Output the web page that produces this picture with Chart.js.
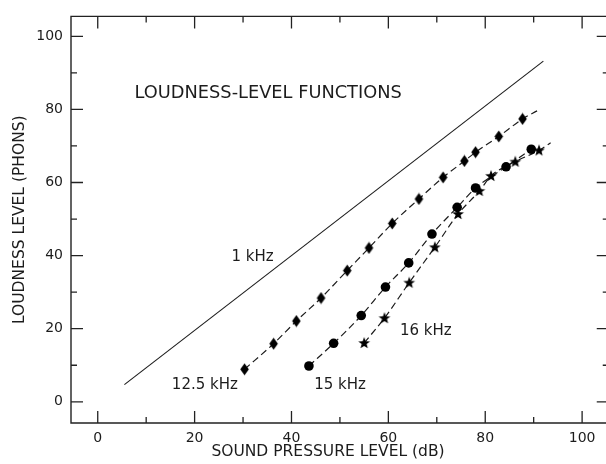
<!DOCTYPE html>
<html>
<head>
<meta charset="utf-8">
<script src="https://cdn.jsdelivr.net/npm/chart.js@4/dist/chart.umd.min.js"></script>
<style>
html,body{margin:0;padding:0;background:#fff;}
#wrap{width:606px;height:464px;}
</style>
</head>
<body>
<div id="wrap"><canvas id="chart" width="606" height="464"></canvas></div>
<script>
// 1 kHz line, end points only
var x1k = [5.5, 92.0];
var y1k = [4.7, 93.2];
// 12.5 kHz (diamonds)
var x125 = [30.3, 36.3, 41.0, 46.1, 51.5, 56.0, 60.8, 66.3, 71.3, 75.7, 78.0, 82.8, 87.7];
var y125 = [8.9, 15.9, 22.1, 28.4, 35.9, 42.1, 48.8, 55.5, 61.4, 65.9, 68.3, 72.6, 77.4];
var end125 = [90.7, 79.6]; // dashed curve runs on a little past last point
// 15 kHz (circles)
var x15 = [43.6, 48.7, 54.4, 59.4, 64.2, 69.0, 74.2, 78.0, 84.3, 89.5];
var y15 = [9.8, 16.0, 23.6, 31.4, 38.0, 45.9, 53.2, 58.5, 64.3, 69.1];
// 16 kHz (stars)
var x16 = [55.0, 59.2, 64.3, 69.6, 74.4, 78.8, 81.2, 86.2, 91.1];
var y16 = [16.1, 22.9, 32.6, 42.3, 51.4, 57.7, 61.8, 65.7, 68.8];
var end16 = [93.5, 70.9];

var xTicks = [0, 10, 20, 30, 40, 50, 60, 70, 80, 90, 100];
var yTicks = [0, 10, 20, 30, 40, 50, 60, 70, 80, 90, 100];

var ink = '#1c1c1c';
var FONT = 'DejaVu Sans';

// text in the plot, given in data units
var notes = [
    {text: 'LOUDNESS-LEVEL FUNCTIONS', x: 7.6, y: 84.3, size: 17.8},
    {text: '1 kHz', x: 27.6, y: 39.5, size: 15},
    {text: '12.5 kHz', x: 15.3, y: 4.6, size: 15},
    {text: '15 kHz', x: 44.7, y: 4.6, size: 15},
    {text: '16 kHz', x: 62.4, y: 19.3, size: 15}
];

function pts(xs, ys, end) {
    var out = [];
    for (var i = 0; i < xs.length; i++) out.push({x: xs[i], y: ys[i]});
    if (end) out.push({x: end[0], y: end[1]});
    return out;
}

function makeDiamond() {
    var c = document.createElement('canvas');
    c.width = 11; c.height = 13;
    var g = c.getContext('2d');
    g.fillStyle = '#000';
    g.beginPath();
    g.moveTo(5.5, 0.5); g.lineTo(9.8, 6.5); g.lineTo(5.5, 12.5); g.lineTo(1.2, 6.5);
    g.closePath(); g.fill();
    return c;
}
function makeStar() {
    var c = document.createElement('canvas');
    c.width = 14; c.height = 14;
    var g = c.getContext('2d');
    g.fillStyle = '#000';
    g.beginPath();
    for (var k = 0; k < 10; k++) {
        var r = k % 2 == 0 ? 6.2 : 2.6;
        var a = -Math.PI / 2 + k * Math.PI / 5;
        var px = 7 + r * Math.cos(a), py = 7.3 + r * Math.sin(a);
        if (k == 0) g.moveTo(px, py); else g.lineTo(px, py);
    }
    g.closePath(); g.fill();
    return c;
}

function curve(data) {
    return {data: data, showLine: true, borderColor: ink, borderWidth: 1.2, borderDash: [7, 4],
        pointRadius: 0, cubicInterpolationMode: 'monotone', fill: false, order: 2};
}
function marks(data, style, r) {
    return {data: data, showLine: false, pointStyle: style, pointRadius: r,
        backgroundColor: '#000', borderColor: '#000', borderWidth: 0, order: 0};
}

var frame = {
    id: 'frame',
    beforeDraw: function (chart) {
        var c = chart.ctx;
        c.save();
        c.fillStyle = '#fff';
        c.fillRect(0, 0, chart.width, chart.height);
        c.restore();
    },
    afterDraw: function (chart) {
        var c = chart.ctx, xs = chart.scales.x, ys = chart.scales.y;
        var L = xs.getPixelForValue(xs.min), R = xs.getPixelForValue(105.5);
        var T = ys.getPixelForValue(ys.max), B = ys.getPixelForValue(ys.min);
        c.save();
        c.strokeStyle = '#222';
        c.lineWidth = 1.4;
        c.beginPath();
        c.moveTo(R, T); c.lineTo(L, T); c.lineTo(L, B); c.lineTo(R, B); c.lineTo(R, T);
        c.stroke();
        c.lineWidth = 1.3;
        c.beginPath();
        xs.ticks.forEach(function (t) {
            var p = xs.getPixelForValue(t.value), len = t.value % 20 == 0 ? 12 : 6;
            c.moveTo(p, B); c.lineTo(p, B - len);
            c.moveTo(p, T); c.lineTo(p, T + len);
        });
        ys.ticks.forEach(function (t) {
            var p = ys.getPixelForValue(t.value), len = t.value % 20 == 0 ? 12 : 6;
            c.moveTo(L, p); c.lineTo(L + len, p);
            c.moveTo(R, p); c.lineTo(R - len, p);
        });
        c.stroke();

        c.fillStyle = ink;
        c.textBaseline = 'middle';
        c.textAlign = 'left';
        notes.forEach(function (n) {
            c.font = n.size + 'px "' + FONT + '"';
            c.fillText(n.text, xs.getPixelForValue(n.x), ys.getPixelForValue(n.y));
        });
        // axis titles
        c.font = '15.5px "' + FONT + '"';
        c.textAlign = 'center';
        c.fillText('SOUND PRESSURE LEVEL (dB)', 328, 452);
        c.translate(20, (T + B) / 2);
        c.rotate(-Math.PI / 2);
        c.fillText('LOUDNESS LEVEL (PHONS)', 0, 0);
        c.restore();
    }
};

var tickFont = {family: FONT, size: 14};

new Chart(document.getElementById('chart'), {
    type: 'scatter',
    data: {
        datasets: [
            {data: pts(x1k, y1k), showLine: true, borderColor: ink, borderWidth: 1.1, pointRadius: 0, order: 2},
            curve(pts(x125, y125, end125)),
            curve(pts(x15, y15)),
            curve(pts(x16, y16, end16)),
            marks(pts(x125, y125), makeDiamond(), 5),
            marks(pts(x15, y15), 'circle', 4.8),
            marks(pts(x16, y16), makeStar(), 5)
        ]
    },
    options: {
        responsive: false,
        animation: false,
        layout: {padding: {top: 15, left: 0, right: 0, bottom: 0}},
        plugins: {legend: {display: false}, tooltip: {enabled: false}},
        scales: {
            x: {
                type: 'linear', min: -5.52, max: 103.9,
                grid: {display: false, drawTicks: false},
                border: {display: false},
                afterFit: function (s) { s.height = 41; },
                afterBuildTicks: function (s) { s.ticks = xTicks.map(function (v) { return {value: v}; }); },
                ticks: {padding: 7, autoSkip: false, maxRotation: 0, color: ink, font: tickFont,
                    callback: function (v) { return v % 20 == 0 ? String(v) : ''; }}
            },
            y: {
                type: 'linear', min: -5.8, max: 105.45,
                grid: {display: false, drawTicks: false},
                border: {display: false},
                afterFit: function (s) { s.width = 71; },
                afterBuildTicks: function (s) { s.ticks = yTicks.map(function (v) { return {value: v}; }); },
                ticks: {padding: 8, autoSkip: false, color: ink, font: tickFont,
                    callback: function (v) { return v % 20 == 0 ? String(v) : ''; }}
            }
        }
    },
    plugins: [frame]
});
</script>
</body>
</html>
